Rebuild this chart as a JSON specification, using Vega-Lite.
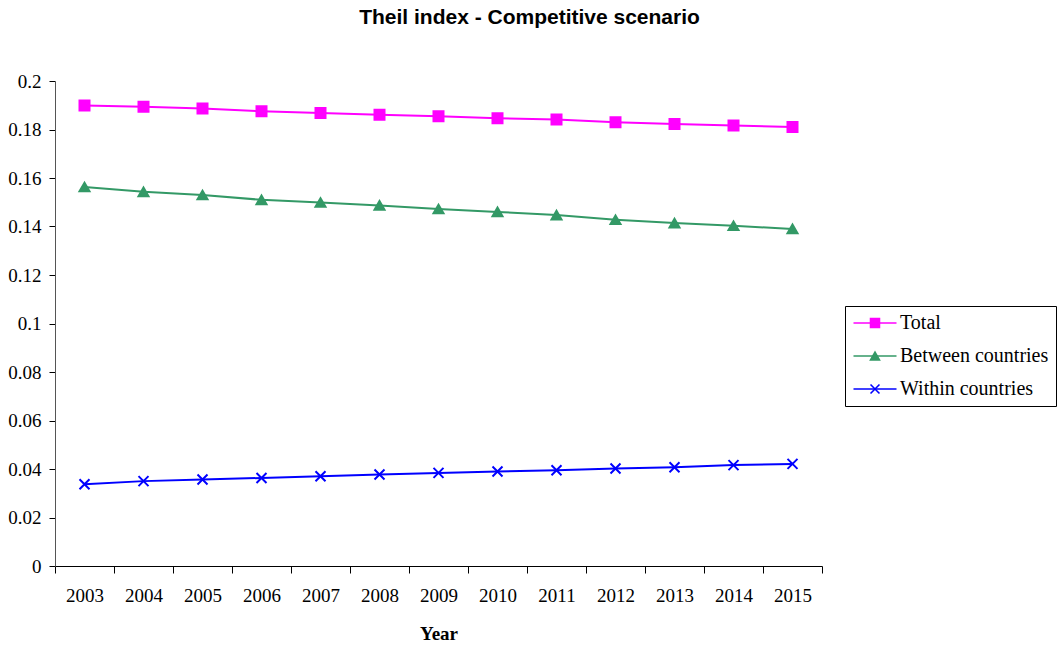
{
  "$schema": "https://vega.github.io/schema/vega-lite/v6.json",
  "autosize": {"type": "none"},
  "padding": {"left": 55, "top": 81, "right": 237, "bottom": 80},
  "width": 767,
  "height": 485,
  "background": "white",
  "title": {
    "text": "Theil index - Competitive scenario",
    "font": "Liberation Sans",
    "fontSize": 21,
    "fontWeight": "bold",
    "color": "black",
    "anchor": "middle",
    "frame": "group",
    "dx": 91,
    "offset": 44
  },
  "config": {
    "view": {"stroke": null},
    "axis": {
      "labelFont": "Liberation Serif",
      "labelFontSize": 19,
      "labelColor": "black",
      "titleFont": "Liberation Serif",
      "titleFontSize": 19,
      "titleColor": "black",
      "domainColor": "black",
      "tickColor": "black",
      "grid": false
    }
  },
  "data": {
    "values": [
      {"year": "2003", "series": "Total", "value": 0.1899},
      {"year": "2004", "series": "Total", "value": 0.1894},
      {"year": "2005", "series": "Total", "value": 0.1887},
      {"year": "2006", "series": "Total", "value": 0.1875},
      {"year": "2007", "series": "Total", "value": 0.1868},
      {"year": "2008", "series": "Total", "value": 0.1861},
      {"year": "2009", "series": "Total", "value": 0.1855},
      {"year": "2010", "series": "Total", "value": 0.1846},
      {"year": "2011", "series": "Total", "value": 0.1841},
      {"year": "2012", "series": "Total", "value": 0.1830},
      {"year": "2013", "series": "Total", "value": 0.1823},
      {"year": "2014", "series": "Total", "value": 0.1816},
      {"year": "2015", "series": "Total", "value": 0.1810},
      {"year": "2003", "series": "Between countries", "value": 0.1563},
      {"year": "2004", "series": "Between countries", "value": 0.1543},
      {"year": "2005", "series": "Between countries", "value": 0.1530},
      {"year": "2006", "series": "Between countries", "value": 0.1510},
      {"year": "2007", "series": "Between countries", "value": 0.1499},
      {"year": "2008", "series": "Between countries", "value": 0.1487},
      {"year": "2009", "series": "Between countries", "value": 0.1472},
      {"year": "2010", "series": "Between countries", "value": 0.1460},
      {"year": "2011", "series": "Between countries", "value": 0.1447},
      {"year": "2012", "series": "Between countries", "value": 0.1428},
      {"year": "2013", "series": "Between countries", "value": 0.1414},
      {"year": "2014", "series": "Between countries", "value": 0.1403},
      {"year": "2015", "series": "Between countries", "value": 0.1390},
      {"year": "2003", "series": "Within countries", "value": 0.0337},
      {"year": "2004", "series": "Within countries", "value": 0.0350},
      {"year": "2005", "series": "Within countries", "value": 0.0357},
      {"year": "2006", "series": "Within countries", "value": 0.0363},
      {"year": "2007", "series": "Within countries", "value": 0.0370},
      {"year": "2008", "series": "Within countries", "value": 0.0377},
      {"year": "2009", "series": "Within countries", "value": 0.0384},
      {"year": "2010", "series": "Within countries", "value": 0.0390},
      {"year": "2011", "series": "Within countries", "value": 0.0395},
      {"year": "2012", "series": "Within countries", "value": 0.0402},
      {"year": "2013", "series": "Within countries", "value": 0.0407},
      {"year": "2014", "series": "Within countries", "value": 0.0416},
      {"year": "2015", "series": "Within countries", "value": 0.0421}
    ]
  },
  "encoding": {
    "x": {
      "field": "year",
      "type": "ordinal",
      "bandPosition": 0.5,
      "scale": {"type": "band", "paddingInner": 0, "paddingOuter": 0},
      "axis": {
        "title": "Year",
        "titleFontWeight": "bold",
        "titlePadding": 19,
        "labelAngle": 0,
        "labelPadding": 13,
        "tickBand": "extent",
        "tickSize": 7,
        "domainWidth": 1
      }
    },
    "y": {
      "field": "value",
      "type": "quantitative",
      "scale": {"domain": [0, 0.2], "nice": false, "zero": true},
      "axis": {
        "title": null,
        "values": [0, 0.02, 0.04, 0.06, 0.08, 0.1, 0.12, 0.14, 0.16, 0.18, 0.2],
        "format": ".2~f",
        "tickSize": 6,
        "labelPadding": 8,
        "domainColor": "#555555"
      }
    }
  },
  "layer": [
    {
      "mark": {"type": "line", "strokeWidth": 2},
      "encoding": {
        "color": {
          "field": "series",
          "type": "nominal",
          "scale": {
            "domain": ["Total", "Between countries", "Within countries"],
            "range": ["#ff00ff", "#339966", "#0000ff"]
          },
          "legend": {
            "orient": "none",
            "legendX": 790,
            "legendY": 225,
            "title": null,
            "symbolType": "M-2.5,0L2.5,0",
            "symbolSize": 296,
            "symbolStrokeWidth": 1.6,
            "symbolOffset": 13,
            "labelFont": "Liberation Serif",
            "labelFontSize": 20,
            "labelColor": "black",
            "labelOffset": 15,
            "rowPadding": 13,
            "padding": 7,
            "strokeColor": "black",
            "fillColor": "white",
            "labelLimit": 300
          }
        }
      }
    },
    {
      "mark": {"type": "point", "filled": true, "opacity": 1, "strokeWidth": 2, "size": 100},
      "encoding": {
        "fill": {
          "field": "series",
          "type": "nominal",
          "scale": {
            "domain": ["Total", "Between countries", "Within countries"],
            "range": ["#ff00ff", "#339966", "#0000ff"]
          },
          "legend": null
        },
        "stroke": {
          "field": "series",
          "type": "nominal",
          "scale": {
            "domain": ["Total", "Between countries", "Within countries"],
            "range": ["#ff00ff", "#339966", "#0000ff"]
          },
          "legend": null
        },
        "shape": {
          "field": "series",
          "type": "nominal",
          "sort": ["Total", "Between countries", "Within countries"],
          "scale": {
            "range": ["square", "triangle-up", "M-1,-1L1,1M-1,1L1,-1"]
          },
          "legend": {
            "orient": "none",
            "legendX": 790,
            "legendY": 225,
            "title": null,
            "symbolSize": 80,
            "symbolStrokeWidth": 1.6,
            "symbolOffset": 13,
            "labelExpr": "''",
            "labelFontSize": 20,
            "labelFont": "Liberation Serif",
            "rowPadding": 13,
            "padding": 7,
            "zindex": 1,
            "encoding": {
              "symbols": {
                "fill": {"value": {"expr": "scale('fill', datum.value)"}},
                "stroke": {"value": {"expr": "scale('fill', datum.value)"}},
                "opacity": {"value": 1}
              }
            }
          }
        }
      }
    }
  ]
}
